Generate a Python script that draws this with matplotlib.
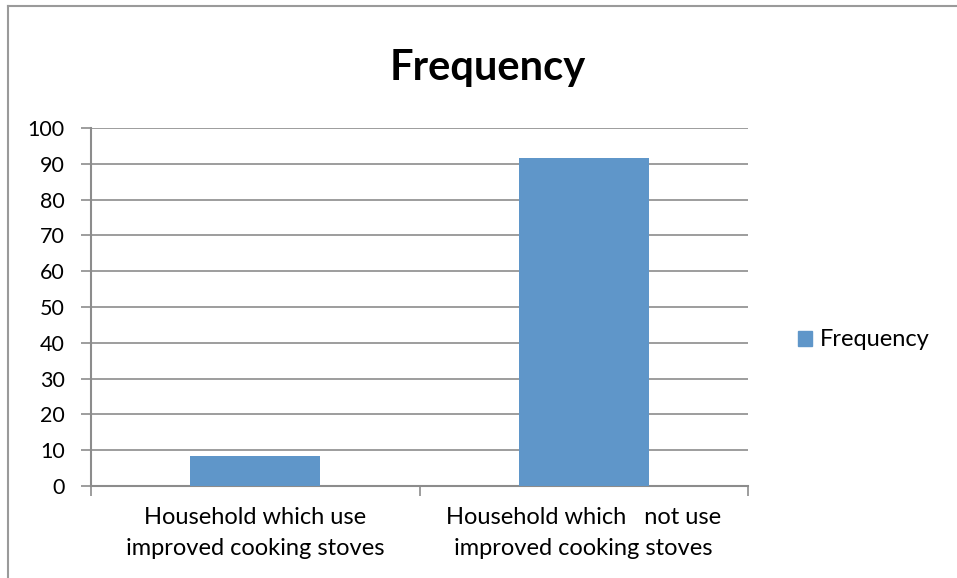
import matplotlib
matplotlib.use("Agg")
import matplotlib.pyplot as plt
from matplotlib.patches import Rectangle
from matplotlib.lines import Line2D

categories = ["Household which use\nimproved cooking stoves",
              "Household which   not use\nimproved cooking stoves"]
values = [8.3, 91.7]
yticks = list(range(0, 101, 10))

C_BAR = "#5f96c9"
C_GRID = "#8c8c8c"

plt.rcParams["font.family"] = ["Lato", "DejaVu Sans"]

fig = plt.figure(figsize=(9.57, 5.78), dpi=100)
ax = fig.add_axes([91 / 957, 1 - 486 / 578, (748 - 91) / 957, (486 - 128) / 578])

x = list(range(len(categories)))
ax.bar(x, values, width=0.396, color=C_BAR, zorder=3, label="Frequency")

ax.set_xlim(-0.5, 1.5)
ax.set_ylim(0, 100)
ax.set_yticks(yticks)
ax.set_yticklabels([str(t) for t in yticks], fontsize=15.5, color="black")
ax.set_xticks([-0.5, 0.5, 1.5])
ax.set_xticklabels([])
ax.tick_params(axis="y", length=7, width=1.2, color=C_GRID, pad=12)
ax.tick_params(axis="x", length=7, width=1.2, color=C_GRID)
ax.yaxis.grid(True, color=C_GRID, lw=1.2, zorder=0)
for s in ["top", "right"]:
    ax.spines[s].set_visible(False)
for s in ["left", "bottom"]:
    ax.spines[s].set_color(C_GRID)
    ax.spines[s].set_linewidth(1.5)

for xi, lab in zip(x, categories):
    ax.text(xi, -0.06, lab, transform=ax.get_xaxis_transform(), ha="center",
            va="top", fontsize=17, linespacing=1.55)

fig.text(488 / 957, 1 - 68 / 578, "Frequency", ha="center", va="center",
         fontsize=30, fontweight="bold")

leg = fig.legend(handles=[Rectangle((0, 0), 1, 1, color=C_BAR)], labels=["Frequency"],
                 loc="center left", bbox_to_anchor=(777 / 957, 1 - 340 / 578),
                 frameon=False, fontsize=17, handlelength=0.6, handleheight=0.6,
                 handletextpad=0.3)

# chart frame
fig.add_artist(Line2D([8 / 957, 8 / 957], [0, 1 - 6 / 578], transform=fig.transFigure,
                      color="#9a9a9a", lw=1.5))
fig.add_artist(Line2D([8 / 957, 1], [1 - 6 / 578, 1 - 6 / 578], transform=fig.transFigure,
                      color="#9a9a9a", lw=1.5))

fig.savefig("out.png", dpi=100, facecolor="white")
